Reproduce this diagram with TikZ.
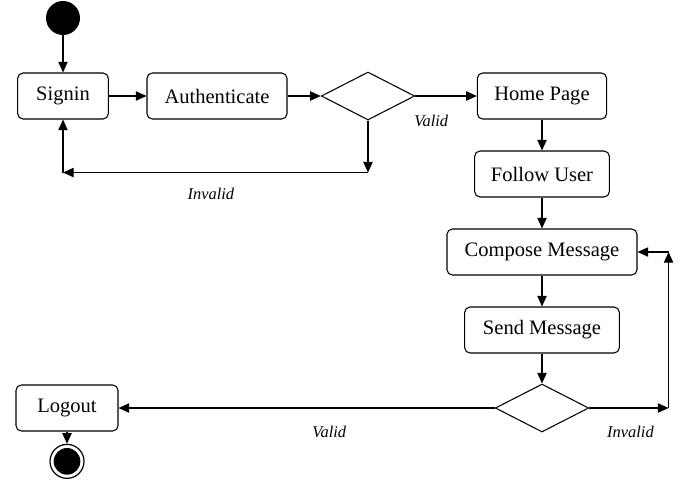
\documentclass[tikz,border=0pt]{standalone}
\usepackage{fontspec}
\setmainfont{Liberation Serif}
\usetikzlibrary{shapes.geometric, arrows.meta}

\begin{document}
\begin{tikzpicture}[node distance=58.5pt,
    >={Triangle[length=8pt, width=7pt]},
    box/.style={draw, rectangle, rounded corners=4pt, minimum height=34.5pt, line width=0.8pt, font=\fontsize{15.4}{18}\selectfont},
    decision/.style={draw, diamond, aspect=1.94, minimum width=70pt, minimum height=36pt, inner sep=0pt, line width=0.8pt},
    startstate/.style={circle, fill=black, minimum size=25.5pt, inner sep=0pt},
    endstate/.style={circle, draw, line width=0.9pt, minimum size=25.5pt, inner sep=0pt,
        path picture={\fill (path picture bounding box.center) circle (10pt);}},
    lbl/.style={font=\fontsize{12.3}{14}\selectfont\itshape, inner sep=0pt},
    flow/.style={->, line width=0.9pt}]
        \useasboundingbox (0,0) rectangle (510pt,-360pt);
        \node [box, minimum width=68pt] at (47.25pt,-72pt) (p1) {Signin};
        \node [startstate, above of=p1] (p0) {};
        \node [box, minimum width=105pt, right of=p1, xshift=57pt] (p2) {Authenticate};
        \node [decision, right of=p2, xshift=54.75pt] (d1) {};
        \node [box, minimum width=97pt, right of=d1, xshift=72pt] (p3) {Home Page};
        \node [box, minimum width=101pt, below of=p3] (p4) {Follow User};
        \node [box, minimum width=142.5pt, below of=p4] (p5) {Compose Message};
        \node [box, minimum width=116pt, below of=p5] (p6) {Send Message};
        \node [decision, below of=p6] (d2) {};
        \node [box, minimum width=76.5pt, below of=p1, yshift=-175.5pt, xshift=3pt] (p7) {Logout};
        \node [endstate, below of=p7, yshift=18.5pt] (p8) {};

        \path (d1.south) ++(0,-39pt) coordinate (c1);
        \coordinate (c2) at (c1 -| p1);
        \path (d2.east) ++(59.5pt,0) coordinate (c3);
        \coordinate (c4) at (c3 |- p5);

        \draw [flow] (p0) -- (p1);
        \draw [flow] (p1) -- (p2);
        \draw [flow] (p2) -- (d1);
        \draw [flow] (d1) -- node [lbl, below=14pt, pos=0.26] {Valid} (p3);
        \draw [flow] (d1) -- (c1);
        \draw [flow] (c1) -- node [lbl, below=11.5pt, pos=0.515] {Invalid} (c2);
        \draw [flow] (c2) -- (p1);
        \draw [flow] (p3) -- (p4);
        \draw [flow] (p4) -- (p5);
        \draw [flow] (p5) -- (p6);
        \draw [flow] (p6) -- (d2);
        \draw [flow] (d2) -- node [lbl, below=13pt, pos=0.44] {Valid} (p7);
        \draw [flow] (d2) -- node [lbl, below=13pt, pos=0.52] {Invalid} (c3);
        \draw [flow] (c3) -- (c4);
        \draw [flow] (c4) -- (p5);
        \draw [flow] (p7) -- (p8);
    \end{tikzpicture}
\end{document}
